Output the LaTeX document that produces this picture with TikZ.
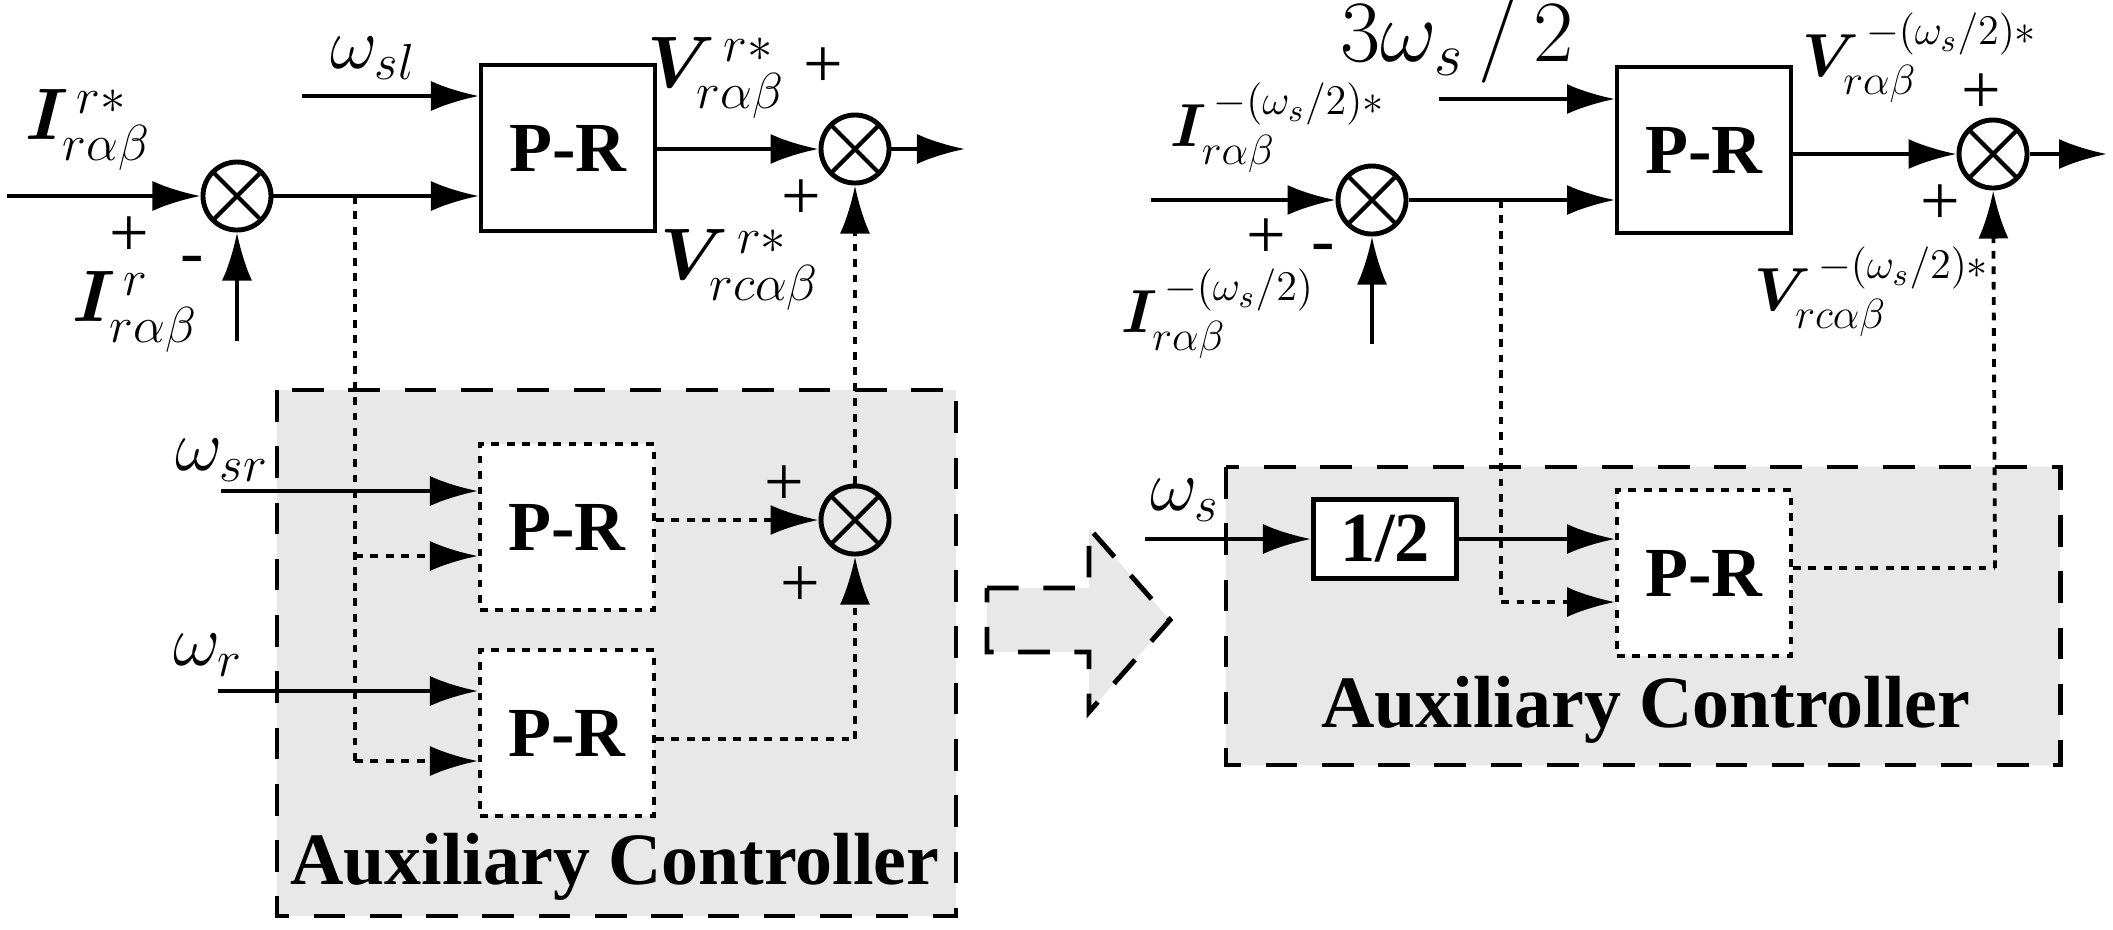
\documentclass[tikz,border=0pt]{standalone}
\usepackage{fontspec}
\setmainfont{Liberation Serif}
\usepackage{amsmath,bm}
\usetikzlibrary{arrows.meta}
\begin{document}
\begin{tikzpicture}[x=0.01cm,y=-0.01cm,line width=1.1pt,
  arr/.style={-{Latex[length=0.48cm,width=0.3cm]}},
  dot/.style={dash pattern=on 2.2pt off 2.2pt},
  sum/.style={circle,draw,minimum size=0.68cm,inner sep=0pt,line width=1.4pt,
    path picture={\draw[line width=1.2pt] (path picture bounding box.north west)--(path picture bounding box.south east)
      (path picture bounding box.north east)--(path picture bounding box.south west);}},
  pr/.style={draw,fill=white,minimum width=1.74cm,minimum height=1.66cm,inner sep=0pt,font=\fontsize{20}{22}\selectfont\bfseries},
  aux/.style={draw,fill=gray!18,dash pattern=on 9pt off 7pt,line width=1.4pt},
  auxt/.style={font=\fontsize{21}{23}\selectfont\bfseries,inner sep=0pt},
  lab/.style={font=\fontsize{20}{22}\selectfont,inner sep=1pt},
  labs/.style={font=\fontsize{18}{20}\selectfont,inner sep=1pt},
  pl/.style={font=\fontsize{20}{22}\selectfont,inner sep=0pt}]
\useasboundingbox (0,0) rectangle (2113,929);
% ---------- left ----------
\draw[aux] (277,390) rectangle (956,916);
\node[auxt] (auxL) at (615,867) {Auxiliary Controller};
\node[sum] (s1) at (237,196) {};
\node[pr] (pr1) at (568,148) {P-R};
\node[sum] (s2) at (855,149) {};
\node[sum] (s3) at (855,520) {};
\node[pr,dot] (pr2) at (567,527) {P-R};
\node[pr,dot] (pr3) at (567,733) {P-R};
\coordinate (inL) at (7,196);
\coordinate (fbL) at (237,341);
\coordinate (outL) at (965,149);
\coordinate (wsl) at (302,96);
\coordinate (wsr) at (221,491);
\coordinate (wr) at (218,691);
\coordinate (brL) at (355,196);
\coordinate (brL2) at (355,556);
\coordinate (brL3) at (355,761);
\coordinate (cnL) at (855,739);
\draw[arr] (inL) -- (s1);
\draw[arr] (fbL) -- (s1);
\draw[arr] (s1) -- (pr1.west|-s1);
\draw[arr] (wsl) -- (pr1.west|-wsl);
\draw[arr] (pr1.east|-s2) -- (s2);
\draw[arr] (s2) -- (outL);
\draw[arr] (wsr) -- (pr2.west|-wsr);
\draw[arr] (wr) -- (pr3.west|-wr);
\draw[dot] (brL) -- (brL3);
\draw[dot,arr] (brL2) -- (pr2.west|-brL2);
\draw[dot,arr] (brL3) -- (pr3.west|-brL3);
\draw[dot,arr] (pr2.east|-s3) -- (s3);
\draw[dot] (pr3.east|-cnL) -- (cnL);
\draw[dot,arr] (cnL) -- (s3);
\draw[dot,arr] (s3) -- (s2);
\node[lab] at (88,130) {$\bm{I}_{r\alpha\beta}^{\,r*}$};
\node[pl] at (129,237) {+};
\node[pl] at (192,266) {-};
\node[lab] at (135,312) {$\bm{I}_{r\alpha\beta}^{\,r}$};
\node[lab] at (373,58) {$\omega_{sl}$};
\node[lab] at (716,78) {$\bm{V}_{r\alpha\beta}^{\,r*}$};
\node[pl] at (823,68) {+};
\node[pl] at (801,200) {+};
\node[lab] at (740,270) {$\bm{V}_{rc\alpha\beta}^{\,r*}$};
\node[lab] at (222,460) {$\omega_{sr}$};
\node[lab] at (208,655) {$\omega_{r}$};
\node[pl] at (784,486) {+};
\node[pl] at (800,587) {+};
% ---------- big arrow ----------
\draw[dash pattern=on 9pt off 7pt,line width=1.4pt,fill=gray!18] (987,588) -- (1089,588) -- (1089,528) -- (1170,620) -- (1089,712) -- (1089,652) -- (987,652) -- cycle;
% ---------- right ----------
\draw[aux] (1226,467) rectangle (2060,765);
\node[auxt] (auxR) at (1646,710) {Auxiliary Controller};
\node[sum] (s4) at (1372,200) {};
\node[pr] (pr4) at (1704,150) {P-R};
\node[sum] (s5) at (1993,154) {};
\node[pr,dot] (pr5) at (1704,573) {P-R};
\node[draw,minimum width=1.43cm,minimum height=0.79cm,inner sep=0pt,fill=white,line width=1.4pt,font=\fontsize{20}{22}\selectfont\bfseries] (half) at (1385,539) {1/2};
\coordinate (inR) at (1151,200);
\coordinate (fbR) at (1372,344);
\coordinate (outR) at (2107,154);
\coordinate (w3) at (1439,99);
\coordinate (wsR) at (1145,539);
\coordinate (brR) at (1501,200);
\coordinate (brR2) at (1501,602);
\coordinate (cnR) at (1995,568);
\draw[arr] (inR) -- (s4);
\draw[arr] (fbR) -- (s4);
\draw[arr] (s4) -- (pr4.west|-s4);
\draw[arr] (w3) -- (pr4.west|-w3);
\draw[arr] (pr4.east|-s5) -- (s5);
\draw[arr] (s5) -- (outR);
\draw[arr] (wsR) -- (half);
\draw[arr] (half) -- (pr5.west|-half);
\draw[dot] (brR) -- (brR2);
\draw[dot,arr] (brR2) -- (pr5.west|-brR2);
\draw[dot] (pr5.east|-cnR) -- (cnR);
\draw[dot,arr] (cnR) -- (s5);
\node[labs] at (1278,128) {$\bm{I}_{r\alpha\beta}^{\,-(\omega_s/2)*}$};
\node[pl] at (1266,239) {+};
\node[pl] at (1323,254) {-};
\node[labs] at (1218,314) {$\bm{I}_{r\alpha\beta}^{\,-(\omega_s/2)}$};
\node[font=\fontsize{24}{26}\selectfont,inner sep=0pt] at (1457,40) {$3\omega_s\,/\,2$};
\node[labs] at (1920,58) {$\bm{V}_{r\alpha\beta}^{\,-(\omega_s/2)*}$};
\node[pl] at (1981,94) {+};
\node[pl] at (1940,205) {+};
\node[labs] at (1872,292) {$\bm{V}_{rc\alpha\beta}^{\,-(\omega_s/2)*}$};
\node[lab] at (1185,500) {$\omega_{s}$};
\end{tikzpicture}
\end{document}
